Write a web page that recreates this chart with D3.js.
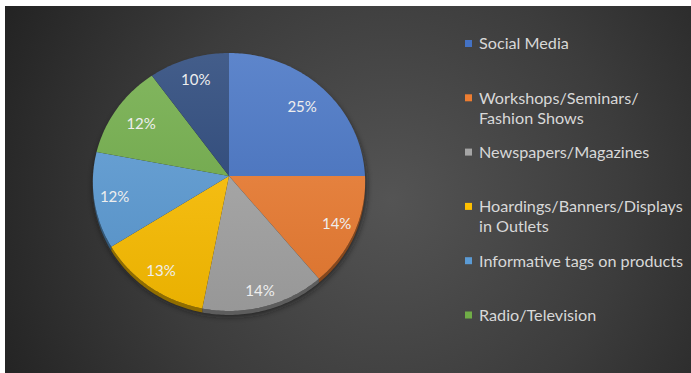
<!DOCTYPE html>
<html>
<head>
<meta charset="utf-8">
<script src="https://cdn.jsdelivr.net/npm/d3@7/dist/d3.min.js"></script>
<style>
  html, body { margin: 0; padding: 0; background: #ffffff; }
  svg { display: block; }
</style>
</head>
<body>
<svg id="chart" width="691" height="373"></svg>
<script>
// Promotion channels and their share (%)
const categories = [
  "Social Media",
  "Workshops/Seminars/ Fashion Shows",
  "Newspapers/Magazines",
  "Hoardings/Banners/Displays in Outlets",
  "Informative tags on products",
  "Radio/Television",
  "Other"
];
const shares = [25, 14, 14, 13, 12, 12, 10];
const percentLabels = ["25%", "14%", "14%", "13%", "12%", "12%", "10%"];
// Legend entries (the last slice has no legend entry), wrapped lines
const legendLines = [
  ["Social Media"],
  ["Workshops/Seminars/", "Fashion Shows"],
  ["Newspapers/Magazines"],
  ["Hoardings/Banners/Displays", "in Outlets"],
  ["Informative tags on products"],
  ["Radio/Television"]
];

const colors = ["#4472C4", "#ED7D31", "#A5A5A5", "#FFC000", "#5B9BD5", "#70AD47", "#264478"];
const labelRadius = [0.78, 0.86, 0.88, 0.86, 0.85, 0.78, 0.82];

const W = 691, H = 373;
const svg = d3.select("#chart");
const defs = svg.append("defs");

// Backdrop panel with soft radial lighting
const bg = defs.append("radialGradient").attr("id", "bg")
  .attr("gradientUnits", "userSpaceOnUse")
  .attr("cx", 390).attr("cy", 200).attr("r", 430);
bg.append("stop").attr("offset", 0).attr("stop-color", "#545454");
bg.append("stop").attr("offset", 0.55).attr("stop-color", "#3c3c3c");
bg.append("stop").attr("offset", 1).attr("stop-color", "#232323");
svg.append("rect").attr("x", 5).attr("y", 6).attr("width", W - 5).attr("height", H - 6)
  .attr("fill", "url(#bg)");

// Pie geometry with a gentle perspective tilt (top edge farther away)
const cx = 229, cy = 176, Rx = 136, Ry = 128.7, persp = 0.0465;
function project(angle, r) {
  const u = r * Math.sin(angle), v = -r * Math.cos(angle);
  const s = 1 / (1 - persp * v);
  return [cx + Rx * u * s, cy + Ry * v * s];
}

const pie = d3.pie().sort(null).value(d => d)
  .startAngle(0).endAngle(2 * Math.PI);
const arcs = pie(shares);

const line = d3.line();
function slicePath(d) {
  const n = Math.max(8, Math.ceil((d.endAngle - d.startAngle) * 60));
  const pts = [project(0, 0)];
  for (let i = 0; i <= n; i++) {
    const a = d.startAngle + (d.endAngle - d.startAngle) * i / n;
    pts.push(project(a, 1));
  }
  return line(pts) + "Z";
}

// Drop shadow under the pie
const blur = defs.append("filter").attr("id", "shadow")
  .attr("x", "-20%").attr("y", "-20%").attr("width", "140%").attr("height", "140%");
blur.append("feGaussianBlur").attr("stdDeviation", 3);

const shadowPts = d3.range(0, 361, 3).map(deg => {
  const p = project(deg * Math.PI / 180, 1);
  return [p[0] + 1, p[1] + 5];
});
svg.append("path").attr("d", line(shadowPts) + "Z")
  .attr("fill", "#141414").attr("opacity", 0.75).attr("filter", "url(#shadow)");

// Side wall visible along the lower rim
const depth = 4;
arcs.forEach((d, i) => {
  const a0 = Math.max(d.startAngle, Math.PI / 2);
  const a1 = Math.min(d.endAngle, 3 * Math.PI / 2);
  if (a1 <= a0) return;
  const n = Math.ceil((a1 - a0) * 60);
  const top = d3.range(n + 1).map(k => project(a0 + (a1 - a0) * k / n, 1));
  const bottom = top.map(p => [p[0], p[1] + depth]).reverse();
  svg.append("path").attr("d", line(top.concat(bottom)) + "Z")
    .attr("fill", d3.color(colors[i]).darker(1.6));
});

// Slice fills: light at the top, deeper toward the bottom
arcs.forEach((d, i) => {
  const g = defs.append("linearGradient").attr("id", "g" + i)
    .attr("gradientUnits", "userSpaceOnUse")
    .attr("x1", 0).attr("y1", cy - Ry).attr("x2", 0).attr("y2", cy + Ry + 8);
  g.append("stop").attr("offset", 0)
    .attr("stop-color", d3.interpolateRgb(colors[i], "#ffffff")(0.14));
  g.append("stop").attr("offset", 1)
    .attr("stop-color", d3.color(colors[i]).darker(0.25));
});

svg.append("g").selectAll("path").data(arcs).join("path")
  .attr("d", slicePath)
  .attr("fill", (d, i) => `url(#g${i})`);

// Percentage labels
svg.append("g").selectAll("text").data(arcs).join("text")
  .attr("transform", (d, i) => {
    const p = project((d.startAngle + d.endAngle) / 2, labelRadius[i]);
    return `translate(${p[0]},${p[1]})`;
  })
  .attr("text-anchor", "middle")
  .attr("dy", "0.36em")
  .attr("font-family", "Lato, 'Open Sans', sans-serif")
  .attr("font-size", 15)
  .attr("fill", "#eeeeee")
  .text((d, i) => percentLabels[i]);

// Legend
const legendY = d3.scaleLinear().domain([0, legendLines.length - 1]).range([43.5, 315]);
const legend = svg.append("g").selectAll("g").data(legendLines).join("g")
  .attr("transform", (d, i) => `translate(465,${legendY(i)})`);
legend.append("rect")
  .attr("x", 0).attr("y", -3.5).attr("width", 7).attr("height", 7)
  .attr("fill", (d, i) => colors[i]);
legend.append("text")
  .attr("font-family", "Lato, 'Open Sans', sans-serif")
  .attr("font-size", 16.2)
  .attr("fill", "#d8d8d8")
  .selectAll("tspan").data(d => d).join("tspan")
  .attr("x", 14)
  .attr("y", (t, k) => k * 20)
  .attr("dy", "0.36em")
  .text(t => t);
</script>
</body>
</html>
